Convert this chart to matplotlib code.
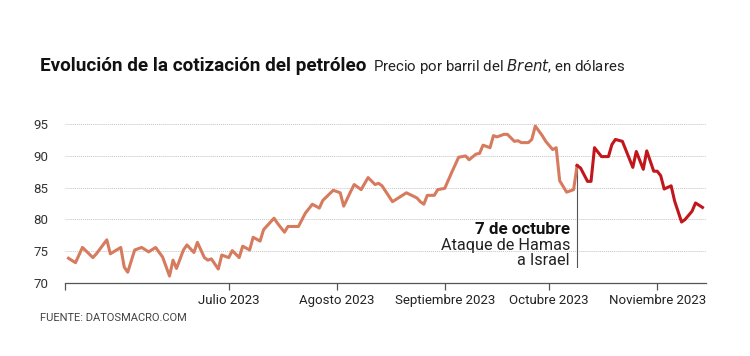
import matplotlib
matplotlib.use("Agg")
import matplotlib.pyplot as plt
import numpy as np

# Brent price (USD/barrel)
dates = np.array([
    "2023-05-16", "2023-05-18", "2023-05-20", "2023-05-23", "2023-05-24",
    "2023-05-27", "2023-05-28", "2023-05-31", "2023-06-01", "2023-06-02",
    "2023-06-04", "2023-06-06", "2023-06-08", "2023-06-10", "2023-06-12",
    "2023-06-14", "2023-06-15", "2023-06-16", "2023-06-18", "2023-06-19",
    "2023-06-21", "2023-06-22", "2023-06-24", "2023-06-25", "2023-06-26",
    "2023-06-28", "2023-06-29", "2023-07-01", "2023-07-02", "2023-07-04",
    "2023-07-05", "2023-07-07", "2023-07-08", "2023-07-10", "2023-07-11",
    "2023-07-14", "2023-07-15", "2023-07-17", "2023-07-18", "2023-07-21",
    "2023-07-23", "2023-07-25", "2023-07-27", "2023-07-28", "2023-07-31",
    "2023-08-02", "2023-08-03", "2023-08-05", "2023-08-06", "2023-08-08",
    "2023-08-10", "2023-08-12", "2023-08-13", "2023-08-14", "2023-08-17",
    "2023-08-21", "2023-08-24", "2023-08-25", "2023-08-26", "2023-08-27",
    "2023-08-29", "2023-08-30", "2023-09-01", "2023-09-03", "2023-09-05",
    "2023-09-07", "2023-09-08", "2023-09-10", "2023-09-11", "2023-09-12",
    "2023-09-14", "2023-09-15", "2023-09-16", "2023-09-18", "2023-09-19",
    "2023-09-21", "2023-09-22", "2023-09-23", "2023-09-25", "2023-09-26",
    "2023-09-27", "2023-09-29", "2023-09-30", "2023-10-02", "2023-10-03",
    "2023-10-04", "2023-10-06", "2023-10-08", "2023-10-09", "2023-10-10",
    "2023-10-12", "2023-10-13", "2023-10-14", "2023-10-16", "2023-10-18",
    "2023-10-19", "2023-10-20", "2023-10-22", "2023-10-25", "2023-10-26",
    "2023-10-28", "2023-10-29", "2023-10-31", "2023-11-01", "2023-11-02",
    "2023-11-03", "2023-11-05", "2023-11-06", "2023-11-08", "2023-11-09",
    "2023-11-11", "2023-11-12", "2023-11-14",
], dtype="datetime64[D]")

prices = np.array([
    73.9, 73.2, 75.6, 74.0, 74.6, 76.8, 74.6, 75.6, 72.5, 71.7,
    75.2, 75.6, 74.9, 75.6, 74.1, 71.1, 73.6, 72.3, 75.2, 76.0,
    74.8, 76.4, 74.0, 73.6, 73.8, 72.2, 74.4, 74.0, 75.1, 74.0,
    75.8, 75.2, 77.2, 76.6, 78.4, 80.2, 79.4, 78.0, 78.9, 78.9,
    81.0, 82.4, 81.8, 83.0, 84.6, 84.2, 82.1, 84.4, 85.5, 84.7,
    86.6, 85.5, 85.7, 85.3, 82.8, 84.2, 83.4, 82.8, 82.4, 83.8,
    83.8, 84.7, 84.9, 87.4, 89.8, 90.0, 89.4, 90.3, 90.4, 91.7,
    91.3, 93.2, 93.0, 93.4, 93.4, 92.3, 92.4, 92.1, 92.1, 92.6,
    94.7, 93.2, 92.3, 91.0, 91.3, 86.1, 84.3, 84.7, 88.5, 88.1,
    86.0, 86.0, 91.3, 89.9, 89.9, 91.8, 92.6, 92.3, 88.2, 90.7,
    87.9, 90.8, 87.6, 87.6, 86.9, 84.8, 85.3, 82.9, 79.6, 80.0,
    81.3, 82.6, 81.9,
])

attack_date = np.datetime64("2023-10-09")
month_ticks = np.array(["2023-07-01", "2023-08-01", "2023-09-01",
                        "2023-10-01", "2023-11-01"], dtype="datetime64[D]")
month_labels = ["Julio 2023", "Agosto 2023", "Septiembre 2023",
                "Octubre 2023", "Noviembre 2023"]
y_ticks = [70, 75, 80, 85, 90, 95]

plt.rcParams["font.family"] = ["Roboto", "DejaVu Sans"]

fig = plt.figure(figsize=(7.5, 3.56), dpi=100)
ax = fig.add_axes([0.0867, 0.205, 0.8546, 0.464])

before = dates <= attack_date
after = dates >= attack_date
ax.plot(dates[before], prices[before], color="#d77b5e", lw=2.2,
        solid_joinstyle="round", zorder=3)
ax.plot(dates[after], prices[after], color="#c2161d", lw=2.2,
        solid_joinstyle="round", zorder=3)

# annotation for 7 October
p_attack = prices[dates == attack_date][0]
ax.plot([attack_date, attack_date], [p_attack - 0.3, 72.5], color="#555555",
        lw=0.8, zorder=2)
tx = attack_date - np.timedelta64(2, "D")
ax.text(tx, 77.67, "7 de octubre", ha="right", va="baseline",
        fontsize=12.2, fontweight="bold", color="#111111")
ax.text(tx, 75.15, "Ataque de Hamas", ha="right", va="baseline",
        fontsize=11.7, color="#222222")
ax.text(tx, 72.8, "a Israel", ha="right", va="baseline",
        fontsize=11.7, color="#222222")

ax.set_xlim(dates[0] - np.timedelta64(1, "D"), dates[-1] + np.timedelta64(1, "D"))
ax.set_ylim(70, 96)
ax.set_yticks(y_ticks)
ax.set_xticks(list(month_ticks) + [dates[0] - np.timedelta64(1, "D")])
ax.set_xticklabels(month_labels + [""])

ax.grid(axis="y", color="#c4c4c4", lw=0.7, ls=(0, (1, 1)))
ax.set_axisbelow(True)
for s in ["top", "right", "left"]:
    ax.spines[s].set_visible(False)
ax.spines["bottom"].set_color("#555555")
ax.spines["bottom"].set_linewidth(0.9)
ax.tick_params(axis="x", length=5, width=0.9, color="#555555",
               labelsize=9.5, labelcolor="#222222", pad=3)
ax.tick_params(axis="y", length=0, labelsize=9.5, labelcolor="#333333", pad=12)

title = fig.text(0.053, 0.80, "Evolución de la cotización del petróleo",
                 fontsize=13.6, fontweight="bold", color="#111111", va="baseline")
# put the subtitle right after the title
fig.canvas.draw()
bb = title.get_window_extent().transformed(fig.transFigure.inverted())
fig.text(bb.x1 + 0.009, 0.80, "Precio por barril del $\\it{Brent}$, en dólares",
         fontsize=10.8, color="#222222", va="baseline")
fig.text(0.053, 0.098, "FUENTE: DATOSMACRO.COM", fontsize=8, color="#444444",
         va="baseline")

fig.savefig("out.png", dpi=100)
